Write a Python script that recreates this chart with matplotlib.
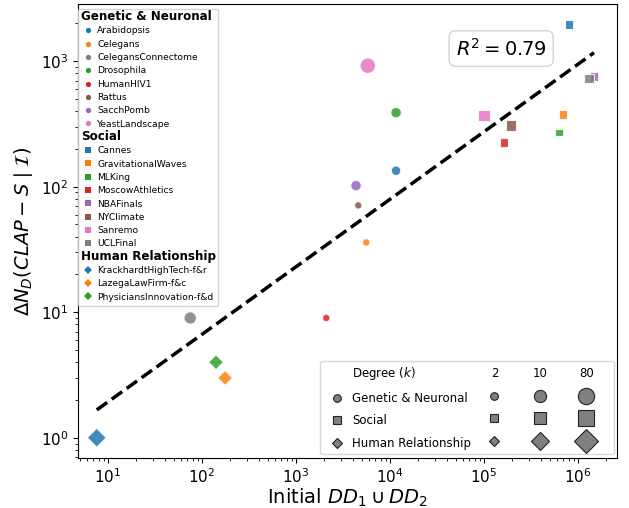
import numpy as np
import matplotlib
matplotlib.use("Agg")
import matplotlib.pyplot as plt
import matplotlib.text as mtext
from matplotlib.lines import Line2D
from matplotlib.legend_handler import HandlerBase

# Genetic & Neuronal
gen_names = ["Arabidopsis", "Celegans", "CelegansConnectome", "Drosophila",
             "HumanHIV1", "Rattus", "SacchPomb", "YeastLandscape"]
gen_x = [1.16e4, 5.6e3, 75, 1.16e4, 2.1e3, 4.6e3, 4.35e3, 5.8e3]
gen_y = [134, 36, 9.0, 389, 9.0, 71, 102, 920]
gen_k = [3.5, 1.9, 11, 5, 1.9, 1.9, 5, 50]
gen_colors = ["tab:blue", "tab:orange", "tab:gray", "tab:green",
              "tab:red", "tab:brown", "tab:purple", "tab:pink"]

# Social
soc_names = ["Cannes", "GravitationalWaves", "MLKing", "MoscowAthletics",
             "NBAFinals", "NYClimate", "Sanremo", "UCLFinal"]
soc_x = [8.0e5, 6.9e5, 6.3e5, 1.63e5, 1.48e6, 1.94e5, 1.0e5, 1.31e6]
soc_y = [1955, 375, 269, 224, 752, 306, 368, 726]
soc_k = [2.6, 2.6, 1.9, 2.6, 2.6, 5, 7.5, 3.5]
soc_colors = ["tab:blue", "tab:orange", "tab:green", "tab:red",
              "tab:purple", "tab:brown", "tab:pink", "tab:gray"]

# Human Relationship
hum_names = ["KrackhardtHighTech-f&r", "LazegaLawFirm-f&c", "PhysiciansInnovation-f&d"]
hum_x = [7.6, 176, 141]
hum_y = [1.0, 3.0, 4.0]
hum_k = [17, 5, 5]
hum_colors = ["tab:blue", "tab:orange", "tab:green"]

# log-log fit
fit_slope = 0.538
fit_intercept = -0.252
r_squared = 0.79

legend_degrees = [2, 10, 80]

groups = [
    ("Genetic & Neuronal", "o", gen_names, gen_x, gen_y, gen_k, gen_colors),
    ("Social", "s", soc_names, soc_x, soc_y, soc_k, soc_colors),
    ("Human Relationship", "D", hum_names, hum_x, hum_y, hum_k, hum_colors),
]


def deg_size(k):
    return 10 + 67 * np.log10(np.asarray(k, dtype=float))


class TextHandle:
    def __init__(self, text, weight="normal", size=None, ha="left", dx=0.0):
        self.text = text
        self.weight = weight
        self.size = size
        self.ha = ha
        self.dx = dx


class TextHandler(HandlerBase):
    # draws a text where the legend handle would go
    def create_artists(self, legend, orig_handle, xdescent, ydescent,
                       width, height, fontsize, trans):
        h = orig_handle
        x = -xdescent + (width / 2 if h.ha == "center" else h.dx)
        t = mtext.Text(x, -ydescent, h.text, fontsize=h.size or fontsize,
                       fontweight=h.weight, ha=h.ha, va="baseline",
                       transform=trans)
        return [t]


fig, ax = plt.subplots(figsize=(6.29, 5.08))
fig.subplots_adjust(left=0.124, right=0.981, bottom=0.0984, top=0.992)

for title, marker, names, xs, ys, ks, colors in groups:
    ax.scatter(xs, ys, s=deg_size(ks), c=colors, marker=marker, alpha=0.85,
               edgecolors="white", linewidths=0.8, zorder=3)

all_x = gen_x + soc_x + hum_x
line_x = np.logspace(np.log10(min(all_x)), np.log10(max(all_x)), 50)
line_y = 10 ** (fit_intercept + fit_slope * np.log10(line_x))
ax.plot(line_x, line_y, "k--", lw=2.5, zorder=2)

ax.set_xscale("log")
ax.set_yscale("log")
ax.set_xlim(4.8, 2.6e6)
ax.set_ylim(0.69, 2850)
ax.tick_params(labelsize=11)
ax.set_xlabel(r"Initial $DD_1 \cup DD_2$", fontsize=14, labelpad=0)
ax.set_ylabel(r"$\Delta N_D(CLAP - S \mid \mathcal{I})$", fontsize=14)

ax.text(0.785, 0.902, rf"$R^2 = {r_squared:.2f}$", transform=ax.transAxes,
        fontsize=14, ha="center", va="center",
        bbox=dict(boxstyle="round,pad=0.35", fc="white", ec="lightgray"))

# dataset legend
h1, l1 = [], []
for title, marker, names, xs, ys, ks, colors in groups:
    h1.append(TextHandle(title, weight="bold", size=8.6, dx=-1.2))
    l1.append("")
    for n, c in zip(names, colors):
        h1.append(Line2D([], [], ls="none", marker=marker, ms=3.8, color=c, mew=0))
        l1.append(n)
leg1 = ax.legend(h1, l1, handler_map={TextHandle: TextHandler()},
                 loc="upper left", bbox_to_anchor=(0, 0.99), borderaxespad=0,
                 fontsize=6.6, handlelength=1.2, handletextpad=0.4,
                 borderpad=0.5, labelspacing=0.47)
ax.add_artist(leg1)

# degree size legend
h2 = [Line2D([], [], ls="none")]
l2 = [r"Degree ($k$)"]
for title, marker, *_ in groups:
    h2.append(Line2D([], [], ls="none", marker=marker, ms=5.5, mfc="#808080",
                     mec="#222222", mew=0.8))
    l2.append(title)
for deg in legend_degrees:
    h2.append(TextHandle(str(deg), ha="center"))
    l2.append("0")
    for title, marker, *_ in groups:
        h2.append(Line2D([], [], ls="none", marker=marker,
                         ms=np.sqrt(deg_size(deg)), mfc="#808080",
                         mec="#222222", mew=0.8))
        l2.append("0")
leg2 = ax.legend(h2, l2, handler_map={TextHandle: TextHandler()}, ncol=4,
                 loc="lower right", borderaxespad=0.3, fontsize=8.5,
                 handlelength=2.0, handletextpad=0.27, columnspacing=1.0,
                 labelspacing=0.8, borderpad=0.4)
# the size columns only keep their label width as spacing
for t in leg2.get_texts():
    if t.get_text() == "0":
        t.set_color("none")

fig.savefig("out.png", dpi=100)
